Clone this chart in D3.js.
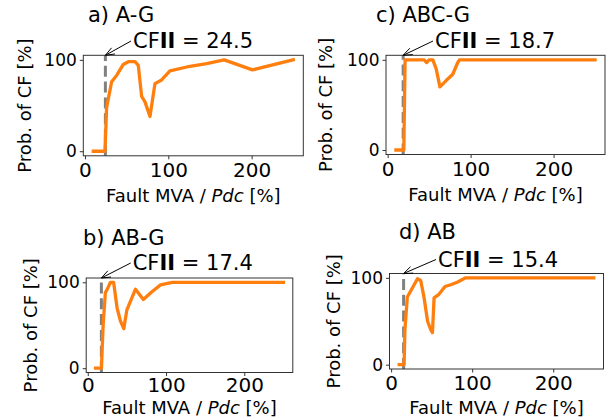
<!DOCTYPE html>
<html>
<head>
<meta charset="utf-8">
<script src="https://cdn.jsdelivr.net/npm/d3@7"></script>
<style>
  body { margin: 0; background: #fff; }
  svg { display: block; font-family: 'DejaVu Sans', sans-serif; }
</style>
</head>
<body>
<div id="chart"></div>
<script>
// panel titles and CFII thresholds
const titles = ['a) A-G', 'c) ABC-G', 'b) AB-G', 'd) AB'];
const cfii = [24.5, 18.7, 17.4, 15.4];
const xTicks = [0, 100, 200];
const yTicks = [0, 100];

// probability of CF curves
const xA = [10, 24, 26, 32, 38, 46, 52, 60, 64, 68, 72, 78, 84, 92, 102, 126, 146, 167, 201, 250];
const yA = [0, 0, 48, 76, 83, 95, 98, 98, 94, 60, 54, 38, 74, 78, 88, 93, 96, 100, 89, 100];

const xC = [10, 19.5, 21, 44, 47, 50, 54.5, 58.5, 63, 70.5, 78.5, 84.5, 86.5, 250];
const yC = [0, 0, 100, 100, 97, 100, 100, 90, 70, 77, 84, 97, 100, 100];

const xB = [10, 17.5, 19.5, 22.5, 25, 29, 33, 37.5, 41.7, 46, 50, 61, 71, 82, 93, 108, 250];
const yB = [0, 0, 48, 88, 92, 100, 100, 70, 55, 46, 68, 92, 80, 89, 97, 100, 100];

const xD = [10, 16, 17, 20, 26, 32.5, 36.5, 40.5, 45, 49, 51, 53, 59, 66.5, 73.5, 81.5, 92, 250];
const yD = [0, 0, 40, 78, 88, 99, 97, 78, 50, 40, 37, 77, 81, 90, 92, 95, 100, 100];

const seriesX = [xA, xC, xB, xD];
const seriesY = [yA, yC, yB, yD];

// layout of each axes box in pixels (left, right, top, bottom) and text spots
const boxes = [
    { l: 83.3, r: 303.3, t: 55.3, b: 155.8, titleX: 88, titleY: 22, annX: 133, annY: 48, ylabX: 30.5, xlabY: 201.5, tpad: 3.5 },
    { l: 386, r: 605, t: 55.3, b: 154.5, titleX: 376, titleY: 22, annX: 435, annY: 48, ylabX: 332, xlabY: 200.5, tpad: 3.5 },
    { l: 86.2, r: 292.8, t: 278, b: 372.5, titleX: 83, titleY: 245, annX: 132.7, annY: 270, ylabX: 37, xlabY: 414, tpad: 2 },
    { l: 389.5, r: 603.5, t: 273.5, b: 369, titleX: 399, titleY: 239, annX: 438, annY: 266.5, ylabX: 340.4, xlabY: 414, tpad: 3.5 }
];

const width = 607;
const height = 420;

const svg = d3.select('#chart')
    .append('svg')
    .attr('width', width)
    .attr('height', height);

boxes.forEach(function(box, i) {
    const xs = seriesX[i];
    const ys = seriesY[i];
    const ext = d3.extent(xs);
    const pad = (ext[1] - ext[0]) * 0.05; // matplotlib style margins
    const x = d3.scaleLinear().domain([ext[0] - pad, ext[1] + pad]).range([box.l, box.r]);
    const y = d3.scaleLinear().domain([-5, 105]).range([box.b, box.t]);

    const g = svg.append('g');

    // CFII dashed marker
    g.append('line')
        .attr('x1', x(cfii[i])).attr('x2', x(cfii[i]))
        .attr('y1', box.b).attr('y2', box.t)
        .attr('stroke', '#808080')
        .attr('stroke-width', 3)
        .attr('stroke-dasharray', '11,4.8');

    const line = d3.line()
        .x(function(d) { return x(d[0]); })
        .y(function(d) { return y(d[1]); });

    g.append('path')
        .datum(xs.map(function(v, k) { return [v, ys[k]]; }))
        .attr('d', line)
        .attr('fill', 'none')
        .attr('stroke', '#ff7f0e')
        .attr('stroke-width', 3.3)
        .attr('stroke-linejoin', 'round')
        .attr('stroke-linecap', 'square');

    // axes
    const xAxis = g.append('g')
        .attr('transform', 'translate(0,' + box.b + ')')
        .call(d3.axisBottom(x).tickValues(xTicks).tickSize(3.5).tickPadding(box.tpad));
    xAxis.select('.domain').remove();
    xAxis.selectAll('text').attr('font-size', 20).attr('fill', '#000')
        .attr('font-family', 'DejaVu Sans');
    xAxis.selectAll('line').attr('stroke', '#333');

    const yAxis = g.append('g')
        .attr('transform', 'translate(' + box.l + ',0)')
        .call(d3.axisLeft(y).tickValues(yTicks).tickSize(3.5).tickPadding(3));
    yAxis.select('.domain').remove();
    yAxis.selectAll('text').attr('font-size', 17).attr('fill', '#000')
        .attr('font-family', 'DejaVu Sans');
    yAxis.selectAll('line').attr('stroke', '#333');

    g.append('rect')
        .attr('x', box.l).attr('y', box.t)
        .attr('width', box.r - box.l).attr('height', box.b - box.t)
        .attr('fill', 'none')
        .attr('stroke', '#333')
        .attr('stroke-width', 1);

    // title
    g.append('text')
        .attr('x', box.titleX).attr('y', box.titleY)
        .attr('font-size', 21)
        .text(titles[i]);

    // annotation with arrow
    const ann = g.append('text')
        .attr('x', box.annX).attr('y', box.annY)
        .attr('font-size', 21);
    ann.append('tspan').text('CF');
    ann.append('tspan').attr('font-weight', 'bold').text('II');
    ann.append('tspan').text(' = ' + cfii[i]);

    const tipX = x(cfii[i]);
    const tipY = box.t;
    const sx = box.annX - 2;
    const sy = box.annY - 7;
    const ang = Math.atan2(tipY - sy, tipX - sx);
    const hl = 9, hw = 3.5;
    const bx = tipX - hl * Math.cos(ang), by = tipY - hl * Math.sin(ang);
    const px = -Math.sin(ang) * hw, py = Math.cos(ang) * hw;
    g.append('line')
        .attr('x1', sx).attr('y1', sy)
        .attr('x2', tipX).attr('y2', tipY)
        .attr('stroke', '#000').attr('stroke-width', 1);
    g.append('path')
        .attr('d', 'M' + (bx + px) + ',' + (by + py) + 'L' + tipX + ',' + tipY + 'L' + (bx - px) + ',' + (by - py))
        .attr('fill', 'none')
        .attr('stroke', '#000')
        .attr('stroke-width', 1);

    // axis labels
    g.append('text')
        .attr('transform', 'translate(' + box.ylabX + ',' + ((box.t + box.b) / 2) + ') rotate(-90)')
        .attr('text-anchor', 'middle')
        .attr('font-size', 18)
        .text('Prob. of CF [%]');

    const xl = g.append('text')
        .attr('x', (box.l + box.r) / 2).attr('y', box.xlabY)
        .attr('text-anchor', 'middle')
        .attr('font-size', 18);
    xl.append('tspan').text('Fault MVA / ');
    xl.append('tspan').attr('font-style', 'italic').text('Pdc');
    xl.append('tspan').text(' [%]');
});
</script>
</body>
</html>
